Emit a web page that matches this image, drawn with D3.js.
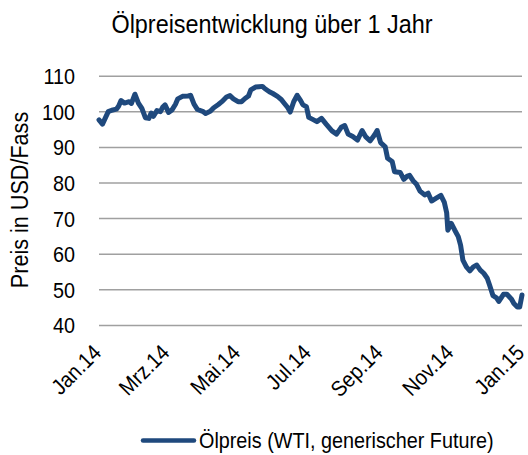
<!DOCTYPE html>
<html>
<head>
<meta charset="utf-8">
<script src="https://cdn.jsdelivr.net/npm/d3@7"></script>
<style>
body { margin: 0; background: #fff; }
text { font-family: "Liberation Sans", Arial, sans-serif; fill: #000; }
</style>
</head>
<body>
<script>
// WTI price
var dates = [
  "2014-01-01","2014-01-04","2014-01-07","2014-01-09","2014-01-12","2014-01-16","2014-01-18","2014-01-20","2014-01-23","2014-01-27","2014-01-29",
  "2014-02-01","2014-02-04","2014-02-07","2014-02-10","2014-02-13","2014-02-15","2014-02-17","2014-02-20","2014-02-23","2014-02-25","2014-02-27",
  "2014-03-02","2014-03-05","2014-03-08","2014-03-10","2014-03-14","2014-03-19","2014-03-21","2014-03-24","2014-03-27",
  "2014-04-01","2014-04-03","2014-04-07","2014-04-10","2014-04-14","2014-04-17","2014-04-21","2014-04-24","2014-04-27",
  "2014-05-01","2014-05-04","2014-05-07","2014-05-10","2014-05-12","2014-05-16","2014-05-19","2014-05-22","2014-05-24","2014-05-28","2014-05-31",
  "2014-06-04","2014-06-07","2014-06-10","2014-06-13","2014-06-15","2014-06-18","2014-06-21","2014-06-24","2014-06-26","2014-06-29",
  "2014-07-01","2014-07-04","2014-07-08","2014-07-12","2014-07-16","2014-07-21","2014-07-25","2014-07-29",
  "2014-08-01","2014-08-04","2014-08-08","2014-08-12","2014-08-16","2014-08-19","2014-08-23","2014-08-27","2014-08-29",
  "2014-09-01","2014-09-05","2014-09-07","2014-09-11","2014-09-13","2014-09-18","2014-09-21","2014-09-24","2014-09-26","2014-09-29",
  "2014-10-02","2014-10-05","2014-10-09","2014-10-12","2014-10-15","2014-10-19","2014-10-23","2014-10-26","2014-10-28","2014-10-29",
  "2014-11-01","2014-11-04","2014-11-07","2014-11-09","2014-11-11","2014-11-14","2014-11-17","2014-11-20","2014-11-23","2014-11-26","2014-11-29",
  "2014-12-02","2014-12-04","2014-12-07","2014-12-10","2014-12-12","2014-12-16","2014-12-19","2014-12-23","2014-12-25","2014-12-28","2014-12-30",
  "2015-01-01"
];
var prices = [
  97.6, 96.4, 98.5, 99.9, 100.3, 100.6, 101.5, 103.0, 102.3, 102.7, 102.2,
  104.8, 102.3, 100.8, 98.2, 98.0, 99.5, 98.6, 100.2, 99.9, 101.2, 101.8,
  99.7, 100.4, 102.0, 103.5, 104.2, 104.3, 104.5, 102.0, 100.5,
  99.9, 99.4, 100.0, 101.0, 101.9, 102.7, 104.0, 104.4, 103.5,
  102.7, 102.7, 103.6, 104.3, 106.0, 106.8, 106.9, 107.0, 106.4, 105.5, 105.0,
  104.2, 103.4, 102.2, 101.0, 99.8, 102.7, 104.5, 103.0, 101.8, 101.3,
  98.3, 97.8, 97.1, 98.0, 96.4, 94.5, 93.6, 95.5,
  96.0, 93.6, 92.9, 91.9, 94.6, 92.9, 91.7, 93.5, 94.6,
  91.2, 90.0, 86.8, 85.9, 83.0, 82.8, 80.9, 81.8, 82.0, 80.5,
  79.5, 77.6, 76.5, 77.0, 74.8, 75.6, 76.4, 74.4, 71.5, 66.6,
  68.5, 66.6, 64.8, 62.4, 58.2, 56.3, 55.2, 56.3, 56.8, 55.4, 54.5,
  53.1, 51.2, 48.2, 47.6, 46.6, 48.6, 48.6, 47.2, 46.0, 45.0, 45.0,
  48.4
];
var yTicks = [40, 50, 60, 70, 80, 90, 100, 110];
var xTicks = ["2014-01-01", "2014-03-01", "2014-05-01", "2014-07-01", "2014-09-01", "2014-11-01", "2015-01-01"];
var xTickLabels = ["Jan.14", "Mrz.14", "Mai.14", "Jul.14", "Sep.14", "Nov.14", "Jan.15"];

var title = "Ölpreisentwicklung über 1 Jahr";
var yTitle = "Preis in USD/Fass";
var seriesName = "Ölpreis (WTI, generischer Future)";

var w = 528, h = 455;
var lineColor = "#1f497d";
var narrow = " scale(0.9,1)"; // fake a condensed face
var parse = d3.timeParse("%Y-%m-%d");

var svg = d3.select("body").append("svg")
    .attr("width", w)
    .attr("height", h);

var x = d3.scaleTime()
    .domain([parse(xTicks[0]), parse(xTicks[xTicks.length - 1])])
    .range([99, 522]);

var y = d3.scaleLinear()
    .domain([40, 110])
    .range([324.9, 75.7]);

// gridlines + y labels
var yAxis = svg.append("g")
    .attr("transform", "translate(99,0)")
    .call(d3.axisLeft(y).tickValues(yTicks).tickSize(-(522 - 99)).tickFormat(d3.format("d")));
yAxis.select(".domain").remove();
yAxis.selectAll(".tick line").attr("stroke", "#a0a0a0").attr("stroke-width", 1.5);
yAxis.selectAll(".tick text")
    .style("font-size", "22px")
    .attr("fill", "#000")
    .attr("x", 0)
    .attr("dy", "0.36em")
    .attr("transform", "translate(-24,0)" + narrow);

// x labels, rotated
var xAxis = svg.append("g")
    .attr("transform", "translate(0,324.9)")
    .call(d3.axisBottom(x).tickValues(xTicks.map(parse)).tickSize(0)
        .tickFormat(function(d, i) { return xTickLabels[i]; }));
xAxis.select(".domain").remove();
xAxis.selectAll(".tick text")
    .style("font-size", "22px")
    .attr("fill", "#000")
    .style("text-anchor", "end")
    .attr("x", 0)
    .attr("y", 0)
    .attr("dy", 0)
    .attr("transform", "translate(3,29) rotate(-45)" + narrow);

// the price line
var line = d3.line()
    .x(function(d, i) { return x(parse(dates[i])); })
    .y(function(d) { return y(d); });

svg.append("path")
    .datum(prices)
    .attr("fill", "none")
    .attr("stroke", lineColor)
    .attr("stroke-width", 5)
    .attr("stroke-linejoin", "round")
    .attr("stroke-linecap", "round")
    .attr("d", line);

// title
svg.append("text")
    .attr("transform", "translate(272,33)" + narrow)
    .attr("text-anchor", "middle")
    .style("font-size", "26px")
    .text(title);

// y axis title
svg.append("text")
    .attr("transform", "translate(28,200) rotate(-90)" + narrow)
    .attr("text-anchor", "middle")
    .style("font-size", "24px")
    .text(yTitle);

// legend
svg.append("line")
    .attr("x1", 143).attr("x2", 194)
    .attr("y1", 440.5).attr("y2", 440.5)
    .attr("stroke", lineColor)
    .attr("stroke-width", 4.5)
    .attr("stroke-linecap", "round");

svg.append("text")
    .attr("transform", "translate(199,448)" + narrow)
    .style("font-size", "22px")
    .text(seriesName);
</script>
</body>
</html>
